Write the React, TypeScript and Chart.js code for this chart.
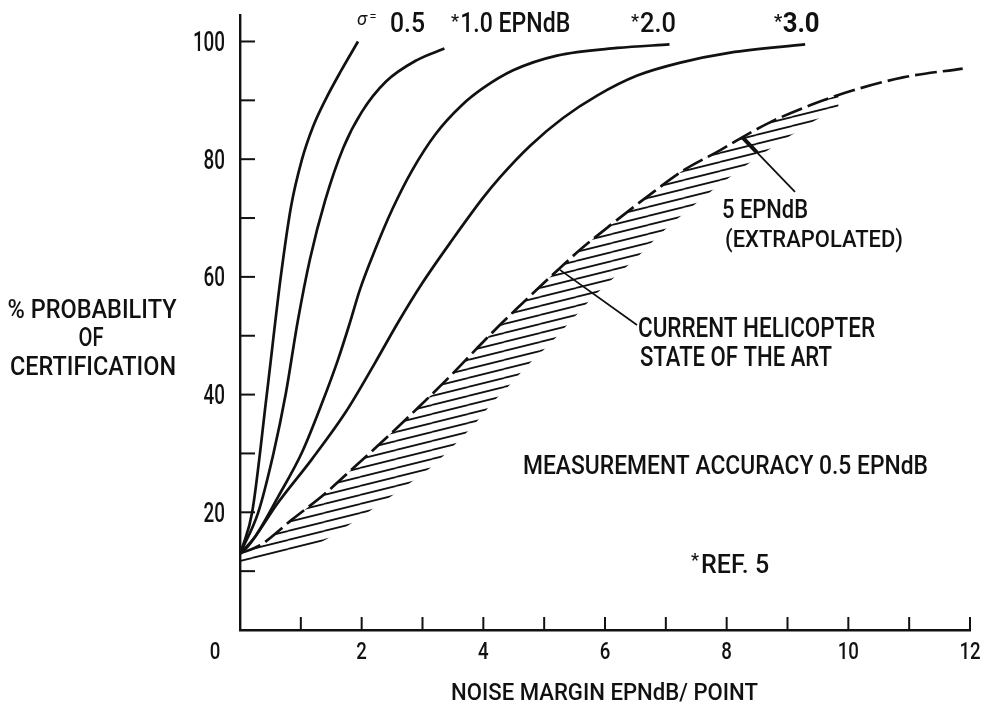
import React, { useEffect, useRef } from "react";
import { Chart, registerables } from "chart.js";

Chart.register(...registerables);

// ---------------- data ----------------
const xTickLabels = [0, 2, 4, 6, 8, 10, 12];
const yTickLabels = [20, 40, 60, 80, 100];
const xTickMarks = [1, 2, 3, 4, 5, 6, 7, 8, 9, 10, 11, 12];
const yTickMarks = [10, 20, 30, 40, 50, 60, 70, 80, 90, 100];

// sigma = 0.5 EPNdB
const s05X = [0, 0.05, 0.2, 0.44, 0.67, 0.84, 1.02, 1.2, 1.4, 1.66, 1.94];
const s05Y = [13, 14.4, 20, 40, 60, 72, 80, 85.5, 90, 95, 100];

// sigma = 1.0 EPNdB
const s10X = [0, 0.3, 0.55, 0.75, 0.95, 1.15, 1.4, 1.7, 2.0, 2.4, 2.9, 3.36];
const s10Y = [13, 20, 30, 40, 52.5, 63, 73, 82, 88, 93.2, 96.8, 98.8];

// sigma = 2.0
const s20X = [0, 0.25, 0.63, 1.02, 1.35, 1.61, 1.8, 1.97, 2.22, 2.5, 2.83, 3.21, 3.65, 4.0, 4.49, 5.21, 6.2, 7.06];
const s20Y = [13, 15.9, 22.7, 30.2, 38.6, 45.9, 52, 57.8, 64.6, 71.4, 78.1, 84.2, 89.2, 92.1, 95.1, 97.6, 98.9, 99.5];

// sigma = 3.0
const s30X = [0, 0.13, 0.63, 1.18, 1.73, 2.22, 2.6, 3.0, 3.49, 4.0, 4.28, 4.77, 5.31, 5.87, 6.53, 7.24, 8.06, 9.29];
const s30Y = [13, 14.2, 21.7, 29, 36.9, 45.4, 52.3, 59, 66.3, 73.5, 77, 82.3, 87, 90.8, 94.2, 96.4, 98.1, 99.5];

// 5 EPNdB (extrapolated) - upper edge of the state-of-the-art band
const b5X = [0, 0.33, 0.86, 1.4, 1.89, 2.38, 2.93, 3.49, 3.87, 4.23, 4.56, 5.05, 5.59, 6.14, 6.69, 7.29, 7.89, 8.22, 8.72, 9.38, 10.08, 10.9, 11.88];
const b5Y = [13, 14.4, 18.8, 23.2, 27.8, 32.4, 37.8, 43.5, 47.6, 51.4, 54.7, 59.5, 64.6, 69.2, 73.6, 78.1, 81.5, 83.5, 86.3, 89.2, 91.7, 93.9, 95.4];

// lower edge of the hatched band (current helicopter state of the art)
const lowX = [0, 1.2, 1.68, 2.0, 2.3, 2.58, 2.85, 3.12, 3.5, 3.83, 4.14, 4.44, 4.77, 5.13, 5.43, 5.76, 6.14, 6.53, 6.94, 7.37, 7.84, 8.39, 9.0, 9.84];
const lowY = [11, 14.2, 17.1, 19.3, 21.4, 23.4, 25.4, 27.5, 31.2, 34.7, 38.5, 41.7, 45.4, 49, 52.4, 56.1, 59.8, 63.4, 67.6, 71.4, 75.3, 79.5, 83.7, 89.0];

const pts = (xs: number[], ys: number[]) => xs.map((x, i) => ({ x, y: ys[i] }));

// ---------------- text helper ----------------
const FONT = "Roboto, 'Liberation Sans', 'DejaVu Sans', sans-serif";
const INK = "#111";
const W8 = 500;

function fitText(
  ctx: CanvasRenderingContext2D,
  text: string,
  x: number,
  baseline: number,
  capH: number,
  width: number,
  align: CanvasTextAlign = "left",
  weight = W8,
  italic = false
) {
  const size = capH / 0.711;
  ctx.font = `${italic ? "italic " : ""}${weight} ${size}px ${FONT}`;
  const w = ctx.measureText(text).width || 1;
  const sx = width / w;
  ctx.save();
  ctx.translate(x, baseline);
  ctx.scale(sx, 1);
  ctx.textAlign = align;
  ctx.textBaseline = "alphabetic";
  ctx.fillStyle = INK;
  ctx.fillText(text, 0, 0);
  ctx.restore();
}

function star(ctx: CanvasRenderingContext2D, x: number, topY: number, bold = false) {
  ctx.save();
  ctx.font = `${bold ? 700 : 500} 18px ${FONT}`;
  ctx.textAlign = "left";
  ctx.textBaseline = "top";
  ctx.fillStyle = INK;
  ctx.fillText("*", x - 1, topY - 2);
  ctx.restore();
}

const overlayPlugin = {
  id: "overlay",
  beforeDraw(chart: any) {
    const { ctx, width, height } = chart;
    ctx.save();
    ctx.fillStyle = "#fff";
    ctx.fillRect(0, 0, width, height);
    ctx.restore();
  },
  afterDraw(chart: any) {
    const { ctx, chartArea } = chart;
    const X = (v: number) => chart.scales.x.getPixelForValue(v);
    const Y = (v: number) => chart.scales.y.getPixelForValue(v);
    ctx.save();
    ctx.strokeStyle = INK;
    ctx.lineWidth = 2;
    // inward tick marks
    xTickMarks.forEach((v) => {
      const px = X(v);
      ctx.beginPath();
      ctx.moveTo(px, chartArea.bottom);
      ctx.lineTo(px, chartArea.bottom - 13);
      ctx.stroke();
    });
    yTickMarks.forEach((v) => {
      const py = Y(v);
      ctx.beginPath();
      ctx.moveTo(chartArea.left, py);
      ctx.lineTo(chartArea.left + 15, py);
      ctx.stroke();
    });

    // tick labels
    yTickLabels.forEach((v) => {
      const s = String(v);
      fitText(ctx, s, chartArea.left - 15, Y(v) + 9.5, 19, s.length * 10.7, "right");
    });
    xTickLabels.forEach((v) => {
      const s = String(v);
      const px = v === 0 ? chartArea.left - 25 : X(v);
      fitText(ctx, s, px, chartArea.bottom + 29, 17.5, s.length * 10.6, "center");
    });

    // axis titles
    fitText(ctx, "NOISE MARGIN EPNdB/ POINT", X(6) - 0.5, chartArea.bottom + 70, 17, 307, "center");
    fitText(ctx, "% PROBABILITY", 92, 318, 18.5, 169, "center");
    fitText(ctx, "OF", 91, 346, 18.5, 25, "center");
    fitText(ctx, "CERTIFICATION", 93, 375, 18.5, 166, "center");

    // curve labels
    fitText(ctx, "\u03c3", X(1.923), Y(102.85), 13, 10, "left", 400, true);
    fitText(ctx, "=", X(2.13), Y(103.4), 9, 7, "left", 400);
    fitText(ctx, "0.5", X(2.466), Y(101.65), 19, 35, "left");
    star(ctx, X(3.485), 15);
    fitText(ctx, "1.0 EPNdB", X(3.62), Y(101.65), 19, 110, "left");
    star(ctx, X(6.444), 15);
    fitText(ctx, "2.0", X(6.575), Y(101.65), 19, 36, "left");
    star(ctx, X(8.795), 15, true);
    fitText(ctx, "3.0", X(8.92), Y(101.65), 19, 37, "left", 700);

    // annotations
    fitText(ctx, "5 EPNdB", X(7.923), Y(70.03), 18, 86, "left");
    fitText(ctx, "(EXTRAPOLATED)", X(7.973), Y(65.1), 17, 178, "left");
    fitText(ctx, "CURRENT HELICOPTER", X(6.543), Y(49.8), 19, 237, "left");
    fitText(ctx, "STATE OF THE ART", X(6.575), Y(44.87), 19, 192, "left");
    fitText(ctx, "MEASUREMENT ACCURACY 0.5 EPNdB", X(4.652), Y(26.52), 18.5, 405, "left");
    star(ctx, X(7.43), Y(12.8));
    fitText(ctx, "REF. 5", X(7.58), Y(9.69), 18, 68, "left");

    // leader lines
    ctx.lineWidth = 1.8;
    ctx.beginPath();
    ctx.moveTo(X(5.26), Y(61.19));
    ctx.lineTo(X(6.526), Y(51.84));
    ctx.stroke();
    ctx.beginPath();
    ctx.moveTo(X(8.268), Y(83.63));
    ctx.lineTo(X(9.123), Y(74.45));
    ctx.stroke();
    ctx.lineWidth = 4;
    ctx.beginPath();
    ctx.moveTo(X(8.268), Y(83.63));
    ctx.lineTo(X(8.5), Y(81.1));
    ctx.stroke();
    ctx.restore();
  },
};

function makeHatch(): CanvasPattern | string {
  const W = 36;
  const H = 9;
  const tile = document.createElement("canvas");
  tile.width = W;
  tile.height = H;
  const t = tile.getContext("2d");
  if (!t) return "rgba(0,0,0,0.3)";
  t.strokeStyle = INK;
  t.lineWidth = 1.8;
  [-1, 0, 1].forEach((k) => {
    t.beginPath();
    t.moveTo(0, H + k * H);
    t.lineTo(W, k * H);
    t.stroke();
  });
  return t.createPattern(tile, "repeat") || "rgba(0,0,0,0.3)";
}

export default function App() {
  const canvasRef = useRef<HTMLCanvasElement | null>(null);

  useEffect(() => {
    const canvas = canvasRef.current;
    if (!canvas) return;
    const hatch = makeHatch();
    const curve = (label: string, xs: number[], ys: number[]) => ({
      label,
      data: pts(xs, ys),
      borderColor: INK,
      borderWidth: 2.7,
      pointRadius: 0,
      fill: false,
      cubicInterpolationMode: "monotone" as const,
    });
    const chart = new Chart(canvas, {
      type: "line",
      data: {
        datasets: [
          curve("\u03c3 = 0.5", s05X, s05Y),
          curve("\u03c3 = 1.0 EPNdB", s10X, s10Y),
          curve("\u03c3 = 2.0", s20X, s20Y),
          curve("\u03c3 = 3.0", s30X, s30Y),
          {
            label: "Current helicopter state of the art",
            data: pts(lowX, lowY),
            borderColor: "rgba(0,0,0,0)",
            borderWidth: 1,
            pointRadius: 0,
            backgroundColor: hatch as any,
            fill: "+1",
            cubicInterpolationMode: "monotone" as const,
          },
          {
            label: "5 EPNdB (extrapolated)",
            data: pts(b5X, b5Y),
            borderColor: INK,
            borderWidth: 2.7,
            borderDash: [22, 6],
            pointRadius: 0,
            fill: false,
            cubicInterpolationMode: "monotone" as const,
          },
        ],
      },
      options: {
        responsive: false,
        animation: false,
        events: [],
        layout: { padding: { left: 240, right: 17, top: 15, bottom: 76 } },
        plugins: {
          legend: { display: false },
          tooltip: { enabled: false },
          title: { display: false },
        },
        scales: {
          x: {
            type: "linear",
            min: 0,
            max: 12,
            grid: { display: false, drawTicks: false },
            border: { display: true, color: INK, width: 2.4 },
            ticks: { display: false },
          },
          y: {
            type: "linear",
            min: 0,
            max: 104.5,
            grid: { display: false, drawTicks: false },
            border: { display: true, color: INK, width: 2.4 },
            ticks: { display: false },
          },
        },
      },
      plugins: [overlayPlugin],
    });
    return () => chart.destroy();
  }, []);

  return (
    <div style={{ position: "fixed", left: 0, top: 0, width: 987, height: 706, background: "#fff" }}>
      <canvas ref={canvasRef} width={987} height={706} style={{ display: "block" }} />
    </div>
  );
}
